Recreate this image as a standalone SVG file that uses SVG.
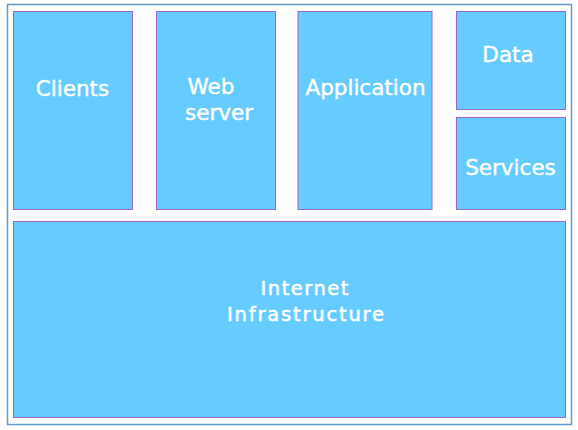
<svg xmlns="http://www.w3.org/2000/svg" width="578" height="430" viewBox="0 0 578 430">
<style>
.box{fill:#66ccff;stroke:#9966cc;stroke-width:1}
.frame{fill:#ffffff;stroke:#6699cc;stroke-width:1.5}
.lbl{font-family:"DejaVu Sans",Verdana,sans-serif;font-size:21.5px;fill:#ffffff;text-anchor:middle;stroke:#ffffff;stroke-width:0.4}
.big{font-family:"DejaVu Sans",Verdana,sans-serif;font-size:19.5px;fill:#ffffff;text-anchor:middle;stroke:#ffffff;stroke-width:0.5}
</style>
<rect class="frame" x="7.5" y="4.5" width="564" height="420"/>
<g id="connectors"></g>
<g id="clients">
<rect class="box" x="13.5" y="11.5" width="119" height="198"/>
<text class="lbl" x="72.5" y="95.5">Clients</text>
</g>
<g id="webserver">
<rect class="box" x="156.5" y="11.5" width="119" height="198"/>
<text class="lbl" x="211" y="93.5">Web</text>
<text class="lbl" x="219" y="120">server</text>
</g>
<g id="application">
<rect class="box" x="298" y="11.5" width="134" height="198"/>
<text class="lbl" x="365.5" y="95">Application</text>
</g>
<g id="data">
<rect class="box" x="456.5" y="11.5" width="109" height="98"/>
<text class="lbl" x="508" y="62">Data</text>
</g>
<g id="services">
<rect class="box" x="456.5" y="117.5" width="109" height="92"/>
<text class="lbl" x="510.5" y="175">Services</text>
</g>
<g id="internet">
<rect class="box" x="13.5" y="221.5" width="552" height="196"/>
<text class="big" x="304.5" y="295" textLength="88" lengthAdjust="spacing">Internet</text>
<text class="big" x="305.5" y="320.5" textLength="157" lengthAdjust="spacing">Infrastructure</text>
</g>
</svg>
